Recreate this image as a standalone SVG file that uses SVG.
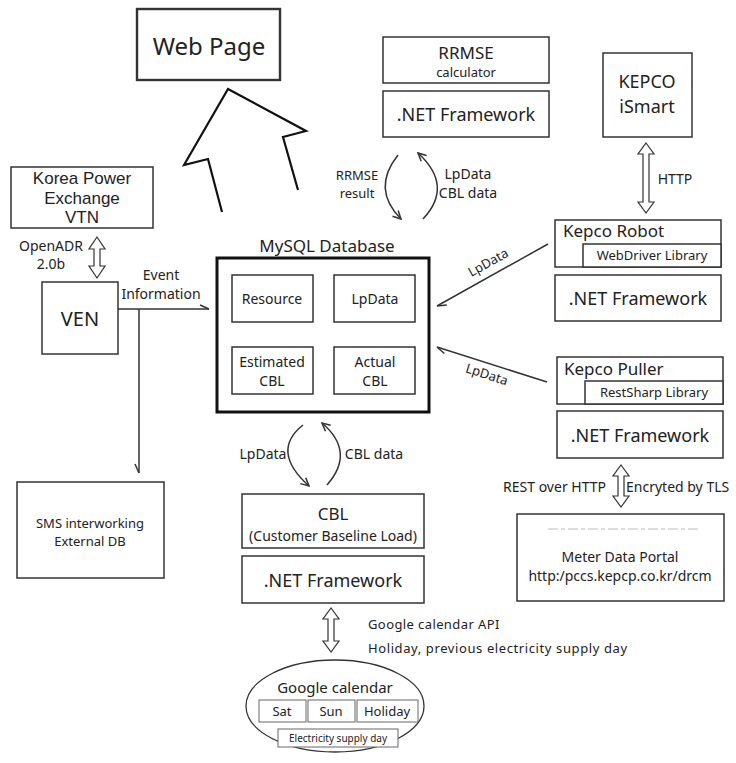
<svg xmlns="http://www.w3.org/2000/svg" width="736" height="763" viewBox="0 0 736 763">
<defs>
<style>
text{font-family:"Noto Sans","Open Sans","DejaVu Sans",sans-serif;fill:#222;text-anchor:middle;dominant-baseline:central}
.lib{font-family:"Liberation Sans",Arial,sans-serif}
.b{fill:#fff;stroke:#333;stroke-width:1.5}
.bb{fill:#fff;stroke:#111;stroke-width:3}
.g{fill:#fff;stroke:#666;stroke-width:1}
.ln{fill:none;stroke:#333;stroke-width:1.5}
.da{fill:#fff;stroke:#333;stroke-width:1.2}
.s13{font-size:13px}.s14{font-size:14px}.s17{font-size:17px}.s18{font-size:18px}.s20{font-size:20px}
</style>
<marker id="v" viewBox="-10 -6 12 12" markerWidth="12" markerHeight="12" refX="0" refY="0" orient="auto" markerUnits="userSpaceOnUse">
<path d="M-8,-4 L0,0 L-8,4" fill="none" stroke="#333" stroke-width="1.5"/>
</marker>
<marker id="hl" viewBox="-10 -6 12 12" markerWidth="12" markerHeight="12" refX="0" refY="0" orient="auto" markerUnits="userSpaceOnUse">
<path d="M-9,-4 L0,0" fill="none" stroke="#333" stroke-width="1.5"/>
</marker>
<marker id="hr" viewBox="-10 -6 12 12" markerWidth="12" markerHeight="12" refX="0" refY="0" orient="auto" markerUnits="userSpaceOnUse">
<path d="M-9,4 L0,0" fill="none" stroke="#333" stroke-width="1.5"/>
</marker>
</defs>
<rect width="736" height="763" fill="#fff"/>

<g id="webpage"><rect class="b" x="137" y="9" width="143" height="71" style="stroke-width:2.4"/><text x="209" y="45" style="font-size:24px">Web Page</text></g>

<g id="vtn"><rect class="b" x="11" y="167" width="142" height="61"/><text class="s17 lib" x="82" y="178.5">Korea Power</text><text class="s17 lib" x="82" y="198">Exchange</text><text class="s17 lib" x="82" y="217.5">VTN</text></g>

<g id="ven"><rect class="b" x="42" y="282" width="76" height="72"/><text class="s20" x="80" y="318">VEN</text></g>

<g id="sms"><rect class="b" x="17" y="482" width="147" height="96"/><text class="s13" x="90" y="523">SMS interworking</text><text class="s13" x="90" y="541">External DB</text></g>

<g id="mysql"><text class="s17" x="327" y="245">MySQL Database</text><rect class="bb" x="217" y="258" width="212" height="154"/>
<rect class="b" x="232" y="275" width="81" height="47"/><text class="s14" x="272" y="298">Resource</text>
<rect class="b" x="334" y="275" width="81" height="47"/><text class="s14" x="375" y="298">LpData</text>
<rect class="b" x="232" y="347" width="81" height="47"/><text class="s14" x="272" y="361">Estimated</text><text class="s14" x="272" y="380">CBL</text>
<rect class="b" x="334" y="347" width="81" height="47"/><text class="s14" x="375" y="361">Actual</text><text class="s14" x="375" y="380">CBL</text></g>

<g id="rrmse"><rect class="b" x="383" y="37" width="166" height="46"/><text class="s17" x="466" y="52">RRMSE</text><text class="s13" x="466" y="72">calculator</text>
<rect class="b" x="383" y="91" width="166" height="46"/><text class="s18" x="466" y="114">.NET Framework</text></g>

<g id="ismart"><rect class="b" x="603" y="53" width="89" height="84"/><text class="s18" x="647" y="81">KEPCO</text><text class="s18" x="647" y="106">iSmart</text></g>

<g id="robot"><rect class="b" x="555" y="220" width="166" height="47"/><rect class="b" x="583" y="244" width="138" height="23"/>
<text class="s17" x="563" y="230" style="text-anchor:start">Kepco Robot</text><text class="s13" x="652" y="255">WebDriver Library</text>
<rect class="b" x="555" y="275" width="166" height="46"/><text class="s18" x="638" y="298">.NET Framework</text></g>

<g id="puller"><rect class="b" x="557" y="357" width="166" height="47"/><rect class="b" x="585" y="381" width="138" height="23"/>
<text class="s17" x="564" y="368" style="text-anchor:start">Kepco Puller</text><text class="s13" x="654" y="392">RestSharp Library</text>
<rect class="b" x="557" y="411" width="166" height="47"/><text class="s18" x="640" y="435">.NET Framework</text></g>

<g id="meter"><rect class="b" x="517" y="514" width="207" height="87"/>
<line x1="548" y1="529" x2="698" y2="529" stroke="#bbb" stroke-width="1" stroke-dasharray="10 3 4 3"/>
<text class="s14" x="620" y="556">Meter Data Portal</text><text class="s14" x="620" y="575">http:/pccs.kepcp.co.kr/drcm</text></g>

<g id="cbl"><rect class="b" x="242" y="494" width="182" height="54"/><text class="s17" x="333" y="513">CBL</text><text class="s14" x="333" y="535">(Customer Baseline Load)</text>
<rect class="b" x="242" y="556" width="182" height="47"/><text class="s18" x="333" y="580">.NET Framework</text></g>

<g id="gcal"><ellipse cx="335" cy="706" rx="89" ry="46" fill="#fff" stroke="#333" stroke-width="1.3"/>
<text style="font-size:15px" x="335" y="687">Google calendar</text>
<rect class="g" x="259" y="700" width="47" height="22"/><text class="s13" x="282" y="711">Sat</text>
<rect class="g" x="308" y="700" width="47" height="22"/><text class="s13" x="331" y="711">Sun</text>
<rect class="g" x="357" y="700" width="61" height="22"/><text class="s13" x="387" y="711">Holiday</text>
<rect class="g" x="278" y="729" width="120" height="18"/><text x="338" y="738" style="font-size:10px">Electricity supply day</text></g>

<g id="connectors">
<polyline class="ln" points="222,212 208,159 184,165 228,89 306,131 283,137 298,190" style="stroke:#111;stroke-width:2.2;stroke-linejoin:miter"/>
<polygon class="da" points="97,237 105,249 100,249 100,266 105,266 97,278 89,266 94,266 94,249 89,249"/>
<text class="s14" x="51" y="245">OpenADR</text><text class="s14" x="51" y="263">2.0b</text>
<path class="ln" d="M118,309 H209" marker-end="url(#hl)"/>
<path class="ln" d="M139,309 V473" marker-end="url(#hr)"/>
<text class="s14" x="161" y="274">Event</text><text class="s14" x="161" y="293">Information</text>
<path class="ln" d="M398,155 Q371,189 401,219" marker-end="url(#v)"/>
<path class="ln" d="M423,219 Q454,186 418,153" marker-end="url(#v)"/>
<text class="s13" x="357" y="175">RRMSE</text><text class="s13" x="357" y="193">result</text>
<text class="s14" x="468" y="173">LpData</text><text class="s14" x="468" y="192">CBL data</text>
<polygon class="da" points="646,143 654,154 649,154 649,202 654,202 646,213 638,202 643,202 643,154 638,154"/>
<text class="s14" x="675" y="178">HTTP</text>
<path class="ln" d="M548,244 L437,306" marker-end="url(#hl)"/>
<text class="s13" x="488" y="262" transform="rotate(-29 488 262)">LpData</text>
<path class="ln" d="M547,382 L437,347" marker-end="url(#hl)"/>
<text class="s13" x="487" y="374" transform="rotate(18 487 374)">LpData</text>
<polygon class="da" points="621,465 629,476 624,476 624,496 629,496 621,507 613,496 618,496 618,476 613,476"/>
<text class="s14" x="606" y="486" style="text-anchor:end">REST over HTTP</text>
<text class="s14" x="626" y="486" style="text-anchor:start">Encryted by TLS</text>
<path class="ln" d="M303,425 Q270,451 309,486" marker-end="url(#v)"/>
<path class="ln" d="M327,485 Q356,452 322,423" marker-end="url(#v)"/>
<text class="s14" x="263" y="453">LpData</text><text class="s14" x="374" y="453">CBL data</text>
<polygon class="da" points="331,608 339,619 334,619 334,641 339,641 331,652 323,641 328,641 328,619 323,619"/>
<text class="s13" x="368" y="624" style="text-anchor:start;letter-spacing:0.4px">Google calendar API</text>
<text class="s13" x="368" y="648" style="text-anchor:start;letter-spacing:0.6px">Holiday,  previous  electricity  supply day</text>
</g>
</svg>
